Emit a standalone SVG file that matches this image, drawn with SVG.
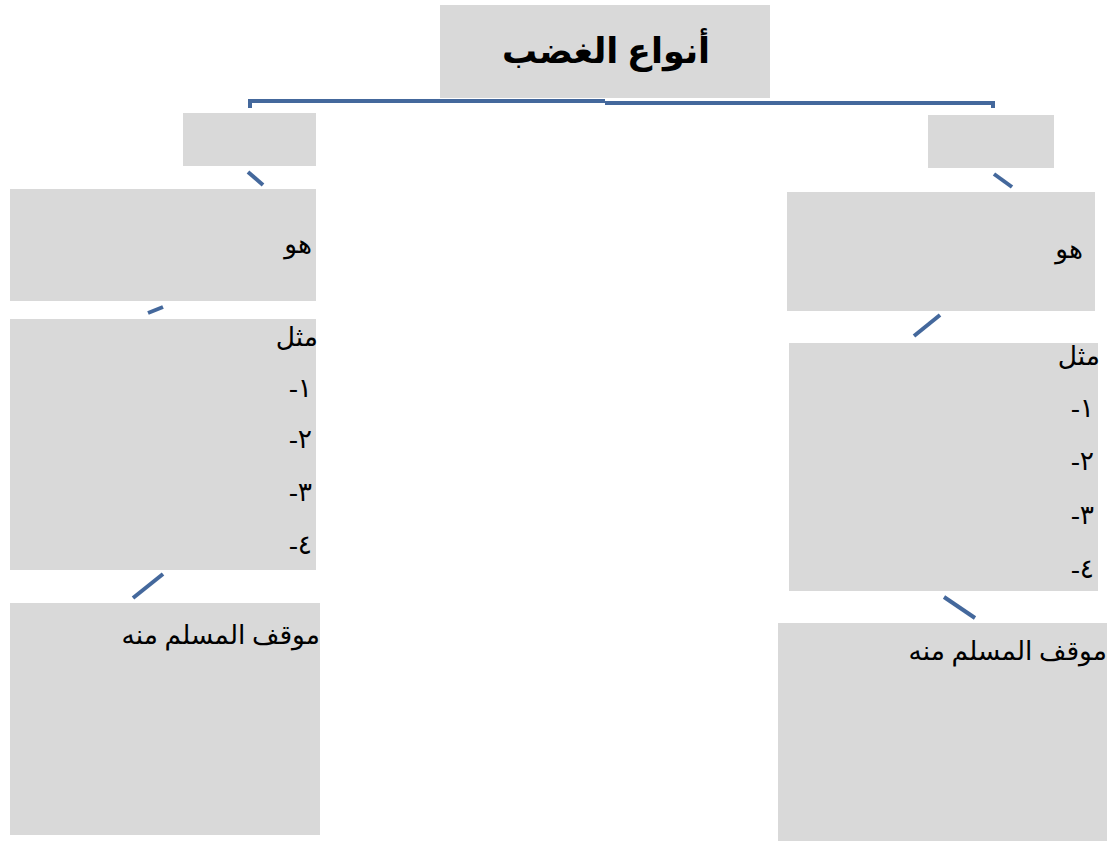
<svg xmlns="http://www.w3.org/2000/svg" width="1112" height="841" viewBox="0 0 1112 841">
<style>
.box{fill:#d9d9d9;stroke:none}
.t{font-family:"Liberation Serif","DejaVu Sans",serif;font-size:26.5px;fill:#000;text-anchor:end}
.title{font-family:"Liberation Serif","DejaVu Sans",serif;font-size:35px;font-weight:bold;fill:#000;text-anchor:middle}
.c{stroke:#44689c;stroke-width:4;fill:none}
</style>
<rect width="1112" height="841" fill="#fff"/>
<g id="connectors">
<polyline class="c" points="250,108 250,101 605,101"/>
<polyline class="c" points="605,103 993,103 993,108"/>
<line class="c" x1="248" y1="172" x2="263" y2="185"/>
<line class="c" x1="148" y1="313" x2="163" y2="307"/>
<line class="c" x1="133" y1="598" x2="163" y2="574"/>
<line class="c" x1="994" y1="174" x2="1012" y2="187"/>
<line class="c" x1="914" y1="336" x2="940" y2="315"/>
<line class="c" x1="944" y1="597" x2="975" y2="618"/>
</g>
<g id="title">
<rect class="box" x="440" y="5" width="330" height="93"/>
<text class="title" x="606" y="63">أنواع الغضب</text>
</g>
<g id="left-head"><rect class="box" x="183" y="113" width="133" height="53"/></g>
<g id="left-def">
<rect class="box" x="10" y="189" width="306" height="112"/>
<text class="t" x="312" y="253">هو</text>
</g>
<g id="left-ex">
<rect class="box" x="10" y="319" width="306" height="251"/>
<text class="t" x="318" y="346">مثل</text>
<text class="t" x="312" y="397">-١</text>
<text class="t" x="312" y="448">-٢</text>
<text class="t" x="312" y="501">-٣</text>
<text class="t" x="312" y="554">-٤</text>
</g>
<g id="left-pos">
<rect class="box" x="10" y="603" width="310" height="232"/>
<text class="t" x="320" y="644">موقف المسلم منه</text>
</g>
<g id="right-head"><rect class="box" x="928" y="115" width="126" height="53"/></g>
<g id="right-def">
<rect class="box" x="787" y="192" width="308" height="119"/>
<text class="t" x="1083" y="258">هو</text>
</g>
<g id="right-ex">
<rect class="box" x="789" y="343" width="309" height="248"/>
<text class="t" x="1100" y="365">مثل</text>
<text class="t" x="1094" y="417">-١</text>
<text class="t" x="1094" y="470">-٢</text>
<text class="t" x="1094" y="524">-٣</text>
<text class="t" x="1094" y="578">-٤</text>
</g>
<g id="right-pos">
<rect class="box" x="778" y="623" width="329" height="218"/>
<text class="t" x="1107" y="660">موقف المسلم منه</text>
</g>
</svg>
